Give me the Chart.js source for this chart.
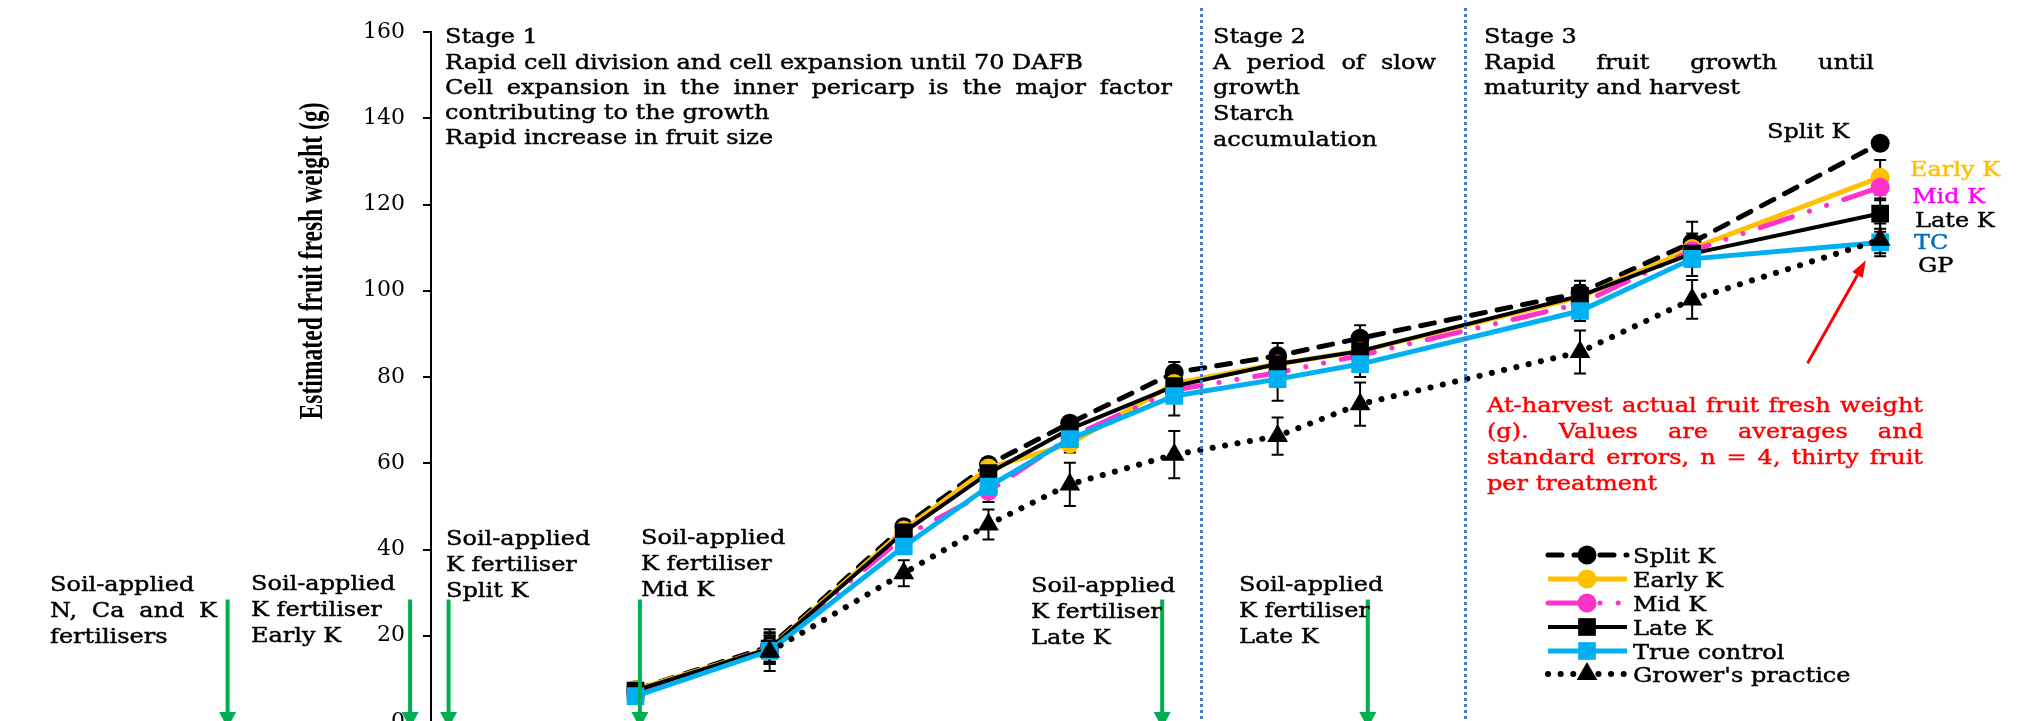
<!DOCTYPE html>
<html>
<head>
<meta charset="utf-8">
<script src="https://cdn.jsdelivr.net/npm/chart.js@4.4.0/dist/chart.umd.min.js"></script>
<style>
html, body { margin: 0; padding: 0; background: #fff; overflow: hidden; }
#wrap { width: 2018px; height: 760px; position: relative; }
</style>
</head>
<body>
<div id="wrap"><canvas id="chart"></canvas></div>
<script>
// sampling dates (days after full bloom)
var days      = [18.6, 30.8, 43.0, 50.7, 58.1, 67.6, 77.0, 84.5, 104.5, 114.7, 131.8];

// estimated fruit fresh weight (g)
var splitK    = [7.5, 17.5, 45.3, 59.7, 69.3, 81.0, 84.9, 89.0, 99.5, 111.2, 134.2];
var earlyK    = [7.5, 17.0, 44.5, 58.9, 64.5, 78.5, 83.0, 86.0, 98.5, 109.8, 126.3];
var midK      = [7.0, 17.0, 43.0, 53.5, 66.0, 77.0, 81.0, 85.0, 97.0, 109.3, 124.0];
var lateK     = [7.3, 17.0, 44.0, 57.7, 67.9, 77.9, 83.0, 86.0, 98.8, 108.6, 117.9];
var trueCtrl  = [6.0, 16.5, 40.7, 54.6, 65.6, 75.6, 79.5, 83.0, 95.3, 107.4, 111.2];
var growerP   = [null, 16.3, 34.5, 45.8, 55.1, 62.0, 66.3, 73.7, 85.8, 98.0, 111.8];

// standard errors
var splitKErr = [1.0, 4.0, 1.5, 1.5, 1.5, 2.5, 3.0, 3.0, 2.8, 4.8, 1.2];
var earlyKErr = [1.0, 3.0, 1.5, 1.5, 2.0, 2.0, 2.5, 2.5, 2.5, 3.5, 4.0];
var midKErr   = [1.0, 3.5, 1.5, 2.5, 2.0, 2.0, 2.5, 2.5, 2.5, 3.0, 3.0];
var lateKErr  = [1.0, 3.0, 1.5, 1.5, 1.5, 2.0, 2.5, 2.5, 2.5, 3.0, 3.5];
var trueErr   = [1.0, 3.0, 1.5, 2.5, 2.0, 4.5, 5.0, 3.0, 2.3, 4.0, 2.5];
var growerErr = [null, 4.5, 3.0, 3.5, 5.0, 5.5, 4.3, 5.0, 5.0, 4.5, 3.8];

var yTicks = [0, 20, 40, 60, 80, 100, 120, 140, 160];

// stage boundaries and fertiliser application dates (DAFB)
var stageDays = [70, 94];
var applyDays = [-18.5, -1.9, 1.6, 19.0, 66.5, 85.2];
var applyArrowTop = 28.4;
// red arrow: from (day, g) to (day, g)
var harvestArrow = [[125.2, 83.2], [130.5, 107.1]];

var stage1Text = ["Stage 1",
  "Rapid cell division and cell expansion until 70 DAFB",
  "Cell expansion in the inner pericarp is the major factor",
  "contributing to the growth",
  "Rapid increase in fruit size"];
var stage2Text = ["Stage 2", "A period of slow", "growth", "Starch", "accumulation"];
var stage3Text = ["Stage 3", "Rapid fruit growth until", "maturity and harvest"];
var applyText = [
  ["Soil-applied", "N, Ca and K", "fertilisers"],
  ["Soil-applied", "K fertiliser", "Early K"],
  ["Soil-applied", "K fertiliser", "Split K"],
  ["Soil-applied", "K fertiliser", "Mid K"],
  ["Soil-applied", "K fertiliser", "Late K"],
  ["Soil-applied", "K fertiliser", "Late K"]];
var noteText = ["At-harvest actual fruit fresh weight",
  "(g). Values are averages and",
  "standard errors, n = 4, thirty fruit",
  "per treatment"];
var endLabels = ["Split K", "Early K", "Mid K", "Late K", "TC", "GP"];

var FONT = "'DejaVu Serif'";
var SX = 1;

function pts(vals) {
  return days.map(function(d, i) { return {x: d, y: vals[i]}; });
}

function textLine(ctx, str, x, y, color, width) {
  ctx.save();
  ctx.translate(x, y);
  ctx.scale(SX, 1);
  ctx.fillStyle = color;
  ctx.strokeStyle = color;
  ctx.lineWidth = 0.45;
  ctx.textAlign = 'left';
  ctx.textBaseline = 'alphabetic';
  var words = width ? str.split(' ') : [str];
  var gap = 0;
  if (width) {
    var total = 0;
    words.forEach(function(w) { total += ctx.measureText(w).width; });
    gap = (width / SX - total) / (words.length - 1);
  }
  var cx = 0;
  words.forEach(function(w) {
    ctx.fillText(w, cx, 0);
    ctx.strokeText(w, cx, 0);
    cx += ctx.measureText(w).width + gap;
  });
  ctx.restore();
}

function block(ctx, lines, x, baselines, color, justify) {
  lines.forEach(function(l, i) {
    textLine(ctx, l, x, baselines[i], color, justify && justify[i]);
  });
}

function arrow(ctx, x1, y1, x2, y2, color, lw, headLen, headW) {
  var a = Math.atan2(y2 - y1, x2 - x1);
  var bx = x2 - Math.cos(a) * headLen, by = y2 - Math.sin(a) * headLen;
  ctx.save();
  ctx.strokeStyle = color;
  ctx.fillStyle = color;
  ctx.lineWidth = lw;
  ctx.beginPath();
  ctx.moveTo(x1, y1);
  ctx.lineTo(bx, by);
  ctx.stroke();
  ctx.beginPath();
  ctx.moveTo(x2, y2);
  ctx.lineTo(bx + Math.sin(a) * headW / 2, by - Math.cos(a) * headW / 2);
  ctx.lineTo(bx - Math.sin(a) * headW / 2, by + Math.cos(a) * headW / 2);
  ctx.closePath();
  ctx.fill();
  ctx.restore();
}

var errorBars = {
  id: 'errorBars',
  beforeDatasetsDraw: function(chart) {
    var ctx = chart.ctx, xs = chart.scales.x, ys = chart.scales.y;
    ctx.save();
    ctx.strokeStyle = '#000';
    ctx.lineWidth = 2;
    chart.data.datasets.forEach(function(ds) {
      ds.data.forEach(function(p, i) {
        var e = ds.errors[i];
        if (p.y == null || e == null) return;
        var x = xs.getPixelForValue(p.x);
        var t = ys.getPixelForValue(p.y + e), b = ys.getPixelForValue(p.y - e);
        ctx.beginPath();
        ctx.moveTo(x, t); ctx.lineTo(x, b);
        ctx.moveTo(x - 6, t); ctx.lineTo(x + 6, t);
        ctx.moveTo(x - 6, b); ctx.lineTo(x + 6, b);
        ctx.stroke();
      });
    });
    ctx.restore();
  }
};

var annotations = {
  id: 'annotations',
  afterDatasetsDraw: function(chart) {
    var ctx = chart.ctx, xs = chart.scales.x, ys = chart.scales.y;
    // stage boundaries
    ctx.save();
    ctx.strokeStyle = '#4A7EC4';
    ctx.lineWidth = 3;
    ctx.setLineDash([3, 3]);
    stageDays.forEach(function(d) {
      var x = Math.round(xs.getPixelForValue(d)) + 0.5;
      ctx.beginPath();
      ctx.moveTo(x, 8);
      ctx.lineTo(x, ys.getPixelForValue(0));
      ctx.stroke();
    });
    ctx.restore();
    // fertiliser applications (the arrow tips run just past the bottom edge)
    applyDays.forEach(function(d) {
      var x = xs.getPixelForValue(d);
      arrow(ctx, x, ys.getPixelForValue(applyArrowTop), x, ys.getPixelForValue(0) + 6,
            '#00B050', 4, 16, 17);
    });
    // harvest note arrow
    arrow(ctx, xs.getPixelForValue(harvestArrow[0][0]), ys.getPixelForValue(harvestArrow[0][1]),
          xs.getPixelForValue(harvestArrow[1][0]), ys.getPixelForValue(harvestArrow[1][1]),
          '#FF0000', 3, 17, 12);
  },
  afterDraw: function(chart) {
    var ctx = chart.ctx;
    ctx.save();
    ctx.font = '21px ' + FONT;
    SX = 638 / ctx.measureText(stage1Text[1]).width;

    block(ctx, stage1Text, 445, [43, 69, 94, 119, 144], '#000', [0, 0, 727, 0, 0]);
    block(ctx, stage2Text, 1213, [43, 69, 94, 120, 146], '#000', [0, 223, 0, 0, 0]);
    block(ctx, stage3Text, 1484, [43, 69, 94], '#000', [0, 390, 0]);

    var ax = [50, 251, 446, 641, 1031, 1239];
    var ay = [591, 590, 545, 544, 592, 591];
    applyText.forEach(function(lines, i) {
      block(ctx, lines, ax[i], [ay[i], ay[i] + 26, ay[i] + 52], '#000', i === 0 ? [0, 167, 0] : null);
    });

    block(ctx, noteText, 1487, [412, 438, 464, 490], '#FF0000', [436, 436, 436, 0]);

    var lx = [1767, 1910, 1912, 1915, 1914, 1918];
    var ly = [138, 176, 203, 227, 249, 272];
    var lc = ['#000', '#FFC000', '#FF00FF', '#000', '#0070C0', '#000'];
    endLabels.forEach(function(t, i) { textLine(ctx, t, lx[i], ly[i], lc[i]); });

    // legend, built from the datasets
    var rows = [555, 579, 603, 627, 651, 674];
    chart.data.datasets.forEach(function(ds, i) {
      var y = rows[i];
      ctx.save();
      ctx.strokeStyle = ds.borderColor;
      ctx.lineWidth = ds.borderWidth;
      ctx.lineCap = ds.borderCapStyle || 'butt';
      ctx.setLineDash(ds.borderDash || []);
      ctx.beginPath();
      ctx.moveTo(1548, y);
      ctx.lineTo(1627, y);
      ctx.stroke();
      ctx.restore();
      ctx.save();
      ctx.fillStyle = ds.pointBackgroundColor;
      ctx.strokeStyle = ds.pointBackgroundColor;
      Chart.helpers.drawPoint(ctx, {pointStyle: ds.pointStyle, radius: ds.pointRadius, rotation: 0, borderWidth: 0}, 1587, y);
      ctx.restore();
      textLine(ctx, ds.label, 1633, y + 8, '#000');
    });

    // y axis title
    ctx.save();
    ctx.font = 'bold 26px "Liberation Serif"';
    var title = 'Estimated fruit fresh weight (g)';
    var w = ctx.measureText(title).width;
    ctx.translate(322, 261);
    ctx.rotate(-Math.PI / 2);
    ctx.scale(317 / w, 1.3);
    ctx.fillStyle = '#000';
    ctx.textAlign = 'center';
    ctx.textBaseline = 'alphabetic';
    ctx.fillText(title, 0, 0);
    ctx.restore();
    ctx.restore();
  }
};

var ctx = document.getElementById('chart').getContext('2d');
new Chart(ctx, {
  type: 'line',
  data: {
    datasets: [
      {label: 'Split K', data: pts(splitK), errors: splitKErr, order: 6,
       borderColor: '#000', borderWidth: 5, borderDash: [14, 12], borderCapStyle: 'round',
       pointStyle: 'circle', pointRadius: 9.5, pointBackgroundColor: '#000', pointBorderWidth: 0},
      {label: 'Early K', data: pts(earlyK), errors: earlyKErr, order: 5,
       borderColor: '#FFC000', borderWidth: 5,
       pointStyle: 'circle', pointRadius: 9.5, pointBackgroundColor: '#FFC000', pointBorderWidth: 0},
      {label: 'Mid K', data: pts(midK), errors: midKErr, order: 4,
       borderColor: '#FF33CC', borderWidth: 5, borderDash: [34, 18, 0.1, 18, 0.1, 18], borderCapStyle: 'round',
       pointStyle: 'circle', pointRadius: 9.5, pointBackgroundColor: '#FF33CC', pointBorderWidth: 0},
      {label: 'Late K', data: pts(lateK), errors: lateKErr, order: 3,
       borderColor: '#000', borderWidth: 4,
       pointStyle: 'rect', pointRadius: 12.5, pointBackgroundColor: '#000', pointBorderWidth: 0},
      {label: 'True control', data: pts(trueCtrl), errors: trueErr, order: 2,
       borderColor: '#00B0F0', borderWidth: 5,
       pointStyle: 'rect', pointRadius: 12.5, pointBackgroundColor: '#00B0F0', pointBorderWidth: 0},
      {label: "Grower's practice", data: pts(growerP), errors: growerErr, order: 1,
       borderColor: '#000', borderWidth: 6, borderDash: [0.1, 12.5], borderCapStyle: 'round',
       pointStyle: 'triangle', pointRadius: 12, pointBackgroundColor: '#000', pointBorderWidth: 0}
    ]
  },
  options: {
    responsive: true,
    maintainAspectRatio: false,
    animation: false,
    devicePixelRatio: 1,
    layout: {padding: {top: 32, bottom: 38, left: 0, right: 0}},
    elements: {line: {tension: 0, fill: false}},
    plugins: {legend: {display: false}, tooltip: {enabled: false}},
    scales: {
      x: {type: 'linear', display: false, min: 0, max: 143.2},
      y: {
        min: 0, max: 160,
        afterBuildTicks: function(s) { s.ticks = yTicks.map(function(v) { return {value: v}; }); },
        afterFit: function(s) { s.width = 431; },
        ticks: {color: '#000', padding: 18, font: {family: FONT, size: 22}},
        grid: {drawOnChartArea: false, drawTicks: true, tickLength: 8, color: '#000', lineWidth: 2},
        border: {display: true, color: '#000', width: 2}
      }
    }
  },
  plugins: [errorBars, annotations]
});
</script>
</body>
</html>
